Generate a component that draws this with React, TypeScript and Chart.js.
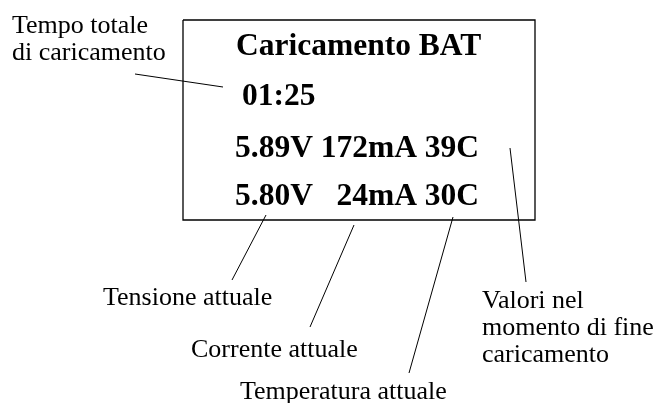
import React, { useEffect, useRef } from "react";
import { Chart, registerables } from "chart.js";

Chart.register(...registerables);

// Display panel text (bold), and where each row sits in diagram units
const displayRows = ["Caricamento BAT", "01:25", "5.89V 172mA 39C", "5.80V   24mA 30C"];
const displayRowX = [236, 242, 235, 235];
const displayRowY = [55, 105, 157, 205];

// Callout labels (regular)
const calloutLabels = [
  ["Tempo totale", "di caricamento"],
  ["Tensione attuale"],
  ["Corrente attuale"],
  ["Temperatura attuale"],
  ["Valori nel", "momento di fine", "caricamento"],
];
const calloutX = [12, 103, 191, 240, 482];
const calloutY = [33, 305, 357, 399, 308];

// Panel outline (diagram units)
const panelX = [183, 535, 535, 183, 183];
const panelY = [20, 20, 220, 220, 20];

// Leader lines: start/end in diagram units
const leaderX1 = [135, 266, 354, 453, 510];
const leaderY1 = [74, 215, 225, 217, 148];
const leaderX2 = [223, 232, 310, 409, 526];
const leaderY2 = [87, 280, 327, 373, 282];

const W = 658;
const H = 403;

export default function App() {
  const ref = useRef<HTMLCanvasElement | null>(null);

  useEffect(() => {
    const canvas = ref.current;
    if (!canvas) return;

    const datasets: any[] = [
      {
        label: "panel",
        data: panelX.map((x, i) => ({ x, y: panelY[i] })),
        showLine: true,
        borderColor: "#000",
        borderWidth: 1.3,
        pointRadius: 0,
        fill: false,
        tension: 0,
      },
      ...leaderX1.map((x1, i) => ({
        label: "leader" + i,
        data: [
          { x: x1, y: leaderY1[i] },
          { x: leaderX2[i], y: leaderY2[i] },
        ],
        showLine: true,
        borderColor: "#000",
        borderWidth: 1,
        pointRadius: 0,
        fill: false,
      })),
    ];

    const textPlugin = {
      id: "diagramText",
      afterDatasetsDraw(chart: any) {
        const { ctx, scales } = chart;
        const xs = scales.x;
        const ys = scales.y;
        ctx.save();
        ctx.fillStyle = "#000";
        ctx.textBaseline = "alphabetic";
        ctx.textAlign = "left";
        ctx.font = 'bold 31.5px "Liberation Serif", "Times New Roman", serif';
        displayRows.forEach((t, i) => {
          ctx.fillText(t, xs.getPixelForValue(displayRowX[i]), ys.getPixelForValue(displayRowY[i]));
        });
        ctx.font = '26px "Liberation Serif", "Times New Roman", serif';
        calloutLabels.forEach((lines, i) => {
          lines.forEach((t, j) => {
            ctx.fillText(
              t,
              xs.getPixelForValue(calloutX[i]),
              ys.getPixelForValue(calloutY[i] + j * 27)
            );
          });
        });
        ctx.restore();
      },
    };

    const chart = new Chart(canvas, {
      type: "scatter",
      data: { datasets },
      options: {
        animation: false,
        responsive: false,
        maintainAspectRatio: false,
        layout: { padding: 0 },
        plugins: { legend: { display: false }, tooltip: { enabled: false }, title: { display: false } },
        scales: {
          x: { type: "linear", min: 0, max: W, display: false },
          y: { type: "linear", min: 0, max: H, reverse: true, display: false },
        },
        elements: { line: { borderCapStyle: "butt" } },
      },
      plugins: [textPlugin],
    });

    return () => chart.destroy();
  }, []);

  return (
    <div style={{ position: "fixed", left: 0, top: 0, width: W, height: H, background: "#fff" }}>
      <canvas ref={ref} width={W} height={H} style={{ display: "block", width: W, height: H }} />
    </div>
  );
}
